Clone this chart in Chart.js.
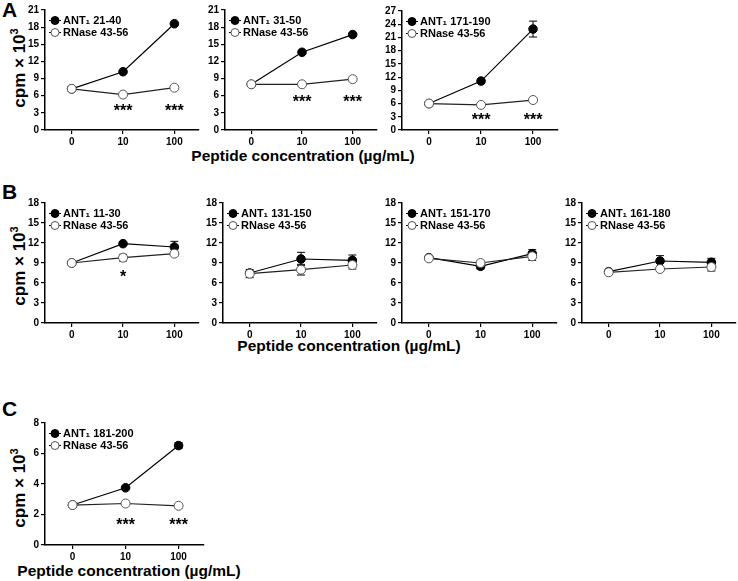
<!DOCTYPE html>
<html>
<head>
<meta charset="utf-8">
<script src="https://cdn.jsdelivr.net/npm/chart.js@4.4.1/dist/chart.umd.min.js"></script>
<style>
  html, body { margin: 0; padding: 0; background: #fff; }
  body { width: 738px; height: 581px; position: relative; overflow: hidden; font-family: 'Liberation Sans', Arial, sans-serif; }
  canvas { position: absolute; }
  .lbl { position: absolute; font-weight: bold; color: #000; white-space: nowrap; }
  .letter { font-size: 21px; }
  .xt { font-size: 15.5px; transform: translate(-50%, -50%); }
  .yt { font-size: 17px; transform: translate(-50%, -50%) rotate(-90deg); }
</style>
</head>
<body>
<div class="lbl letter" style="left:2px;top:-2px;">A</div>
<div class="lbl letter" style="left:2px;top:180px;">B</div>
<div class="lbl letter" style="left:2px;top:397px;">C</div>
<div class="lbl yt" style="left:19px;top:68px;">cpm × 10<sup style="font-size:11px">3</sup></div>
<div class="lbl yt" style="left:19px;top:266px;">cpm × 10<sup style="font-size:11px">3</sup></div>
<div class="lbl yt" style="left:19px;top:488px;">cpm × 10<sup style="font-size:11px">3</sup></div>
<div class="lbl xt" style="left:303px;top:156px;">Peptide concentration (µg/mL)</div>
<div class="lbl xt" style="left:349px;top:346px;">Peptide concentration (µg/mL)</div>
<div class="lbl xt" style="left:129px;top:571px;">Peptide concentration (µg/mL)</div>

<script>
// ---- data ----
const doseLabels = ['0', '10', '100'];
const antLabels = ['ANT₁ 21-40', 'ANT₁ 31-50', 'ANT₁ 171-190', 'ANT₁ 11-30',
                   'ANT₁ 131-150', 'ANT₁ 151-170', 'ANT₁ 161-180', 'ANT₁ 181-200'];
const controlLabel = 'RNase 43-56';

const antMeans = [
  [7.2, 10.2, 18.6],
  [8.0, 13.6, 16.7],
  [6.0, 11.1, 22.9],
  [9.0, 11.9, 11.4],
  [7.5, 9.6, 9.4],
  [9.8, 8.5, 10.4],
  [7.7, 9.3, 9.1],
  [2.62, 3.75, 6.52]
];
const antErr = [
  [0, 0.2, 0.2],
  [0, 0.2, 0.2],
  [0, 0.3, 1.8],
  [0, 0.2, 0.85],
  [0, 1.0, 0.8],
  [0, 0.4, 0.6],
  [0, 0.8, 0.6],
  [0, 0.05, 0.2]
];
const rnaseMeans = [
  [7.2, 6.2, 7.4],
  [8.0, 8.0, 8.9],
  [6.0, 5.7, 6.8],
  [9.0, 9.8, 10.4],
  [7.4, 8.0, 8.7],
  [9.7, 9.0, 10.0],
  [7.6, 8.1, 8.4],
  [2.62, 2.72, 2.57]
];
const rnaseErr = [
  [0, 0, 0],
  [0, 0, 0],
  [0, 0, 0],
  [0, 0.5, 0.2],
  [0.6, 0.8, 0.6],
  [0, 0.3, 0.6],
  [0, 0.2, 0.6],
  [0, 0, 0]
];
// significance marks: text per dose and y value where they sit
const starText = [
  ['', '***', '***'],
  ['', '***', '***'],
  ['', '***', '***'],
  ['', '*', ''],
  ['', '', ''],
  ['', '', ''],
  ['', '', ''],
  ['', '***', '***']
];
const starY = [3.7, 5.4, 2.8, 7.3, 0, 0, 0, 1.47];
const yMax = [21, 21, 27, 18, 18, 18, 18, 8];
const yStep = [3, 3, 3, 3, 3, 3, 3, 2];

// ---- layout: [axis x, plot top, plot bottom, axis right end] ----
const boxes = [
  [45, 10, 130, 200],
  [225, 10, 130, 378],
  [402, 11, 130, 559],
  [45, 203, 323, 200],
  [223, 203, 323, 378],
  [402, 203, 323, 558],
  [582, 203, 323, 737],
  [45, 423, 545, 205]
];
const Y_W = 42, X_H = 22, PAD_T = 8, PAD_R = 4;
const FONT = "'Liberation Sans', Arial, sans-serif";

const errorBars = {
  id: 'errorBars',
  beforeDatasetsDraw(chart, args, opts) {
    const { ctx, scales: { x, y } } = chart;
    ctx.save();
    ctx.strokeStyle = '#000';
    ctx.lineWidth = 1;
    chart.data.datasets.forEach((ds) => {
      ds.err.forEach((e, i) => {
        if (!e) return;
        const v = ds.data[i].y;
        const px = x.getPixelForValue(i);
        const hi = y.getPixelForValue(v + e);
        const lo = y.getPixelForValue(v - e);
        ctx.beginPath();
        ctx.moveTo(px, hi); ctx.lineTo(px, lo);
        ctx.moveTo(px - 4, hi); ctx.lineTo(px + 4, hi);
        ctx.moveTo(px - 4, lo); ctx.lineTo(px + 4, lo);
        ctx.stroke();
      });
    });
    ctx.restore();
  },
  afterDatasetsDraw(chart, args, opts) {
    const { ctx, scales: { x, y } } = chart;
    ctx.save();
    ctx.fillStyle = '#000';
    ctx.font = 'bold 16px ' + FONT;
    ctx.textAlign = 'center';
    ctx.textBaseline = 'middle';
    opts.stars.forEach((s, i) => {
      if (!s) return;
      ctx.fillText(s, x.getPixelForValue(i), y.getPixelForValue(opts.starY) + 3);
    });
    // legend, top-left inside the plot
    const left = chart.chartArea.left, top = chart.chartArea.top;
    ctx.font = 'bold 11px ' + FONT;
    ctx.textAlign = 'left';
    chart.data.datasets.forEach((ds, k) => {
      const cy = top + 10.5 + k * 12;
      const cx = left + 10;
      ctx.strokeStyle = '#000';
      ctx.lineWidth = 1;
      ctx.beginPath();
      ctx.moveTo(cx - 6, cy); ctx.lineTo(cx + 6, cy);
      ctx.stroke();
      ctx.beginPath();
      ctx.arc(cx, cy, 4, 0, Math.PI * 2);
      ctx.fillStyle = ds.pointBackgroundColor;
      ctx.fill();
      ctx.strokeStyle = ds.pointBorderColor;
      ctx.stroke();
      ctx.fillStyle = '#000';
      ctx.fillText(ds.label, cx + 8, cy + 0.5);
    });
    ctx.restore();
  }
};

boxes.forEach((b, p) => {
  const [ax, top, bottom, right] = b;
  const cv = document.createElement('canvas');
  const w = right - ax + Y_W + PAD_R;
  const h = bottom - top + PAD_T + X_H;
  cv.width = w; cv.height = h;
  cv.style.left = (ax - Y_W) + 'px';
  cv.style.top = (top - PAD_T) + 'px';
  cv.style.width = w + 'px'; cv.style.height = h + 'px';
  document.body.appendChild(cv);

  new Chart(cv, {
    type: 'line',
    data: {
      datasets: [
        {
          label: antLabels[p],
          data: antMeans[p].map((v, i) => ({ x: i, y: v })),
          err: antErr[p],
          borderColor: '#000',
          borderWidth: 1.2,
          pointRadius: 4.3,
          pointBackgroundColor: '#000',
          pointBorderColor: '#000',
          pointBorderWidth: 1,
          order: 2
        },
        {
          label: controlLabel,
          data: rnaseMeans[p].map((v, i) => ({ x: i, y: v })),
          err: rnaseErr[p],
          borderColor: '#222',
          borderWidth: 1.2,
          pointRadius: 4.5,
          pointBackgroundColor: '#fff',
          pointBorderColor: '#555',
          pointBorderWidth: 1,
          order: 1
        }
      ]
    },
    options: {
      responsive: false,
      animation: false,
      devicePixelRatio: 1,
      layout: { padding: { top: PAD_T, right: PAD_R, left: 0, bottom: 0 } },
      plugins: {
        legend: { display: false },
        tooltip: { enabled: false },
        errorBars: { stars: starText[p], starY: starY[p] }
      },
      scales: {
        x: {
          type: 'linear',
          min: -0.52,
          max: 2.47,
          afterBuildTicks: (s) => { s.ticks = [0, 1, 2].map(v => ({ value: v })); },
          afterFit: (s) => { s.height = X_H; },
          grid: { drawOnChartArea: false, drawTicks: true, tickLength: 4, color: '#000', lineWidth: 1.2 },
          border: { display: true, color: '#000', width: 1.5 },
          ticks: {
            padding: 2,
            color: '#000',
            font: { family: FONT, size: 10, weight: 'bold' },
            callback: (v) => doseLabels[v],
            maxRotation: 0
          }
        },
        y: {
          min: 0,
          max: yMax[p],
          afterFit: (s) => { s.width = Y_W; },
          grid: { drawOnChartArea: false, drawTicks: true, tickLength: 4, color: '#000', lineWidth: 1.2 },
          border: { display: true, color: '#000', width: 1.5 },
          ticks: {
            stepSize: yStep[p],
            autoSkip: false,
            padding: 2,
            color: '#000',
            font: { family: FONT, size: 10, weight: 'bold' }
          }
        }
      }
    },
    plugins: [errorBars]
  });
});
</script>
</body>
</html>
